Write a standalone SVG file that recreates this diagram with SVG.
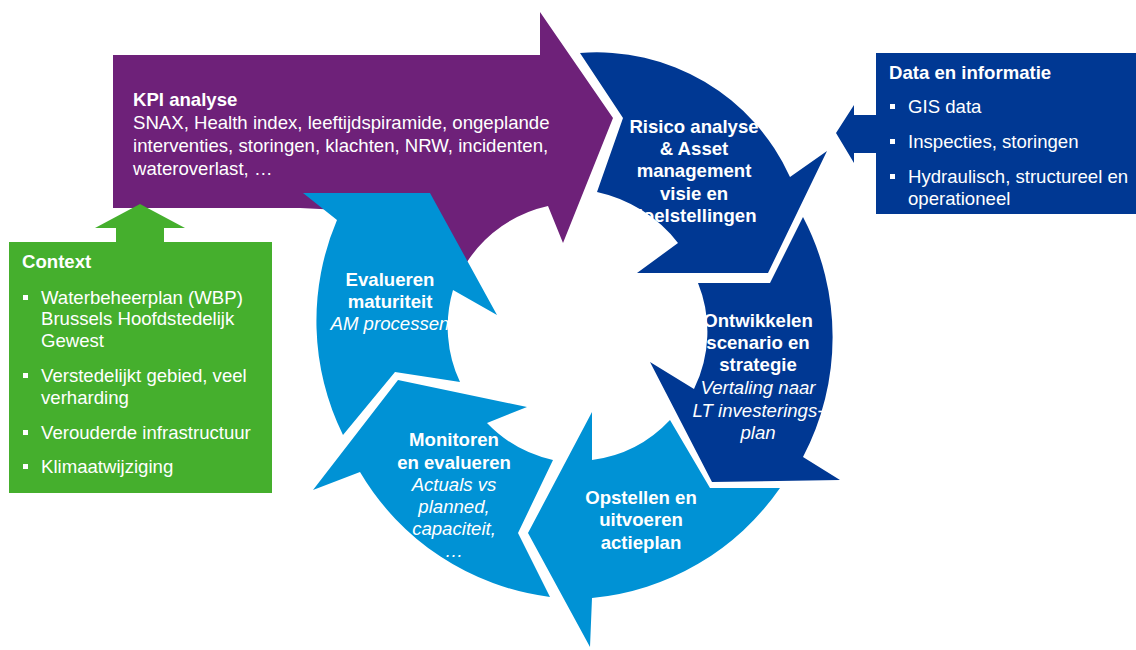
<svg xmlns="http://www.w3.org/2000/svg" width="1136" height="650" viewBox="0 0 1136 650">
  <style>
    .t { font-family: "Liberation Sans", Arial, sans-serif; font-size: 18.6px; fill: #ffffff; }
    .b { font-weight: bold; }
    .i { font-style: italic; }
    .c { text-anchor: middle; }
    .purple { fill: #6E2179; }
    .navy { fill: #003893; }
    .light { fill: #0092D5; }
    .green { fill: #45AF2D; }
    .bullet { fill: #ffffff; }
  </style>
  <rect width="1136" height="650" fill="#ffffff"/>

  <!-- KPI analysis: large purple block arrow -->
  <g id="kpi-analyse">
    <path class="purple" d="M113,55 H540 V12 L613,118 L563,243 L548,206 A130,130 0 0 0 467,262 L440,215 L300,208 H113 Z"/>
    <text class="t b" x="133" y="106">KPI analyse</text>
    <text class="t" x="133" y="129">SNAX, Health index, leeftijdspiramide, ongeplande</text>
    <text class="t" x="133" y="152">interventies, storingen, klachten, NRW, incidenten,</text>
    <text class="t" x="133" y="175">wateroverlast, …</text>
  </g>

  <!-- Cycle: five arc arrows, clockwise -->
  <g id="risico">
    <path class="navy" d="M580,53 A212,212 0 0 1 790,177 L827,151 L768,273 L637,273 L678,243 A140,140 0 0 0 597,192 L623,118 Z"/>
    <text class="t b c" x="694" y="133">Risico analyse</text>
    <text class="t b c" x="694" y="155">&amp; Asset</text>
    <text class="t b c" x="694" y="177">management</text>
    <text class="t b c" x="694" y="200">visie en</text>
    <text class="t b c" x="694" y="222">doelstellingen</text>
  </g>

  <g id="ontwikkelen">
    <path class="navy" d="M803,217 A258,258 0 0 1 803,457 L840,480 L712,482 L650,362 L694,389 A130,130 0 0 0 698,283 L770,283 Z"/>
    <text class="t b c" x="758" y="327">Ontwikkelen</text>
    <text class="t b c" x="758" y="349">scenario en</text>
    <text class="t b c" x="758" y="371">strategie</text>
    <text class="t i c" x="758" y="394">Vertaling naar</text>
    <text class="t i c" x="758" y="417">LT investerings-</text>
    <text class="t i c" x="758" y="439">plan</text>
  </g>

  <g id="opstellen">
    <path class="light" d="M780,488 A258,258 0 0 1 592,598 L590,647 L528,533 L592,412 L592,460 A130,130 0 0 0 670,420 L710,488 Z"/>
    <text class="t b c" x="641" y="504">Opstellen en</text>
    <text class="t b c" x="641" y="526">uitvoeren</text>
    <text class="t b c" x="641" y="549">actieplan</text>
  </g>

  <g id="monitoren">
    <path class="light" d="M550,597 A258,258 0 0 1 360,472 L313,490 L398,380 L527,407 L487,423 A130,130 0 0 0 553,460 L518,533 Z"/>
    <text class="t b c" x="454" y="446">Monitoren</text>
    <text class="t b c" x="454" y="469">en evalueren</text>
    <text class="t i c" x="454" y="491">Actuals vs</text>
    <text class="t i c" x="454" y="513">planned,</text>
    <text class="t i c" x="454" y="535">capaciteit,</text>
    <text class="t i c" x="454" y="557">…</text>
  </g>

  <g id="evalueren">
    <path class="light" d="M343,435 A258,258 0 0 1 337,220 L303,193 L430,193 L497,315 L453,290 A130,130 0 0 0 460,382 L395,372 Z"/>
    <text class="t b c" x="390" y="286">Evalueren</text>
    <text class="t b c" x="390" y="308">maturiteit</text>
    <text class="t i c" x="390" y="330">AM processen</text>
  </g>

  <!-- Context box -->
  <g id="context">
    <rect class="green" x="9" y="242" width="263" height="251"/>
    <text class="t b" x="22" y="268">Context</text>
    <rect class="bullet" x="23" y="295" width="5" height="5"/>
    <text class="t" x="41" y="304">Waterbeheerplan (WBP)</text>
    <text class="t" x="41" y="325">Brussels Hoofdstedelijk</text>
    <text class="t" x="41" y="347">Gewest</text>
    <rect class="bullet" x="23" y="373" width="5" height="5"/>
    <text class="t" x="41" y="382">Verstedelijkt gebied, veel</text>
    <text class="t" x="41" y="404">verharding</text>
    <rect class="bullet" x="23" y="430" width="5" height="5"/>
    <text class="t" x="41" y="439">Verouderde infrastructuur</text>
    <rect class="bullet" x="23" y="464" width="5" height="5"/>
    <text class="t" x="41" y="473">Klimaatwijziging</text>
  </g>

  <!-- Data and information box -->
  <g id="data-informatie">
    <rect class="navy" x="876" y="53" width="260" height="161"/>
    <text class="t b" x="889" y="79">Data en informatie</text>
    <rect class="bullet" x="890" y="104" width="5" height="5"/>
    <text class="t" x="908" y="113">GIS data</text>
    <rect class="bullet" x="890" y="139" width="5" height="5"/>
    <text class="t" x="908" y="148">Inspecties, storingen</text>
    <rect class="bullet" x="890" y="174" width="5" height="5"/>
    <text class="t" x="908" y="183">Hydraulisch, structureel en</text>
    <text class="t" x="908" y="205">operationeel</text>
  </g>

  <!-- Input arrows feeding the cycle -->
  <g id="connectors">
    <path class="green" d="M140,204 L185,228 L164,228 L164,243 L116,243 L116,228 L95,228 Z"/>
    <path class="navy" d="M836,133 L854,105 L854,115 L877,115 L877,153 L854,153 L854,163 Z"/>
  </g>
</svg>
